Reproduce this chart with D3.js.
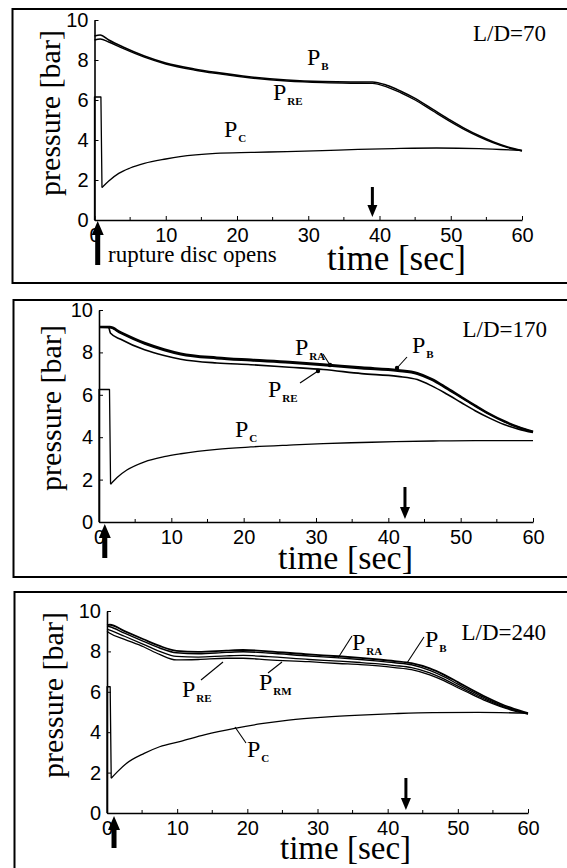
<!DOCTYPE html>
<html>
<head>
<meta charset="utf-8">
<script src="https://cdn.jsdelivr.net/npm/d3@7"></script>
<style>
  html, body { margin: 0; padding: 0; background: #fff; }
  svg { display: block; }
</style>
</head>
<body>
<svg id="chart" width="567" height="868"></svg>
<script>
// ---- shared axis ticks ----
const xTickVals = [0, 10, 20, 30, 40, 50, 60];
const yTickVals = [0, 2, 4, 6, 8, 10];

// ---- L/D = 70 ----
const tB1  = [0, 0.8, 2, 4, 7, 10, 14, 17, 22, 27, 32, 36, 39, 41, 43, 45, 47.5, 50, 52, 54, 56, 58, 60];
const pB1  = [9.2, 9.25, 9.0, 8.65, 8.2, 7.85, 7.55, 7.38, 7.15, 7.0, 6.92, 6.9, 6.9, 6.74, 6.44, 6.08, 5.53, 4.98, 4.57, 4.21, 3.9, 3.65, 3.47];
const pRE1 = [9.0, 9.05, 8.9, 8.58, 8.14, 7.8, 7.5, 7.33, 7.1, 6.95, 6.87, 6.84, 6.83, 6.66, 6.36, 6.0, 5.45, 4.91, 4.51, 4.16, 3.86, 3.62, 3.46];
const tC1  = [0, 0, 0.9, 1.05, 2, 3.4, 5, 7, 10, 12, 17, 22, 27, 32, 37, 42, 48, 54, 60];
const pC1  = [0, 6.15, 6.15, 1.62, 1.95, 2.33, 2.6, 2.83, 3.05, 3.17, 3.33, 3.38, 3.42, 3.47, 3.53, 3.57, 3.6, 3.57, 3.47];

// ---- L/D = 170 ----
const tB2  = [0, 1.5, 3, 6.3, 9, 11.3, 16.3, 21, 26.3, 31, 36.3, 41.3, 44, 46, 48, 50, 52, 54, 56, 58, 60];
const pB2  = [9.2, 9.2, 8.95, 8.45, 8.15, 7.95, 7.76, 7.66, 7.56, 7.44, 7.29, 7.17, 7.03, 6.75, 6.35, 5.92, 5.5, 5.1, 4.76, 4.48, 4.26];
const pRA2 = [9.18, 9.17, 8.9, 8.4, 8.1, 7.9, 7.71, 7.61, 7.51, 7.39, 7.24, 7.12, 6.98, 6.7, 6.3, 5.88, 5.46, 5.07, 4.73, 4.46, 4.25];
const tRE2 = [0, 1.3, 1.6, 3, 6.3, 9, 11.3, 16.3, 21, 26.3, 31, 36.3, 41.3, 44, 46, 48, 50, 52, 54, 56, 58, 60];
const pRE2 = [9.2, 9.2, 8.9, 8.62, 8.12, 7.85, 7.68, 7.5, 7.42, 7.3, 7.19, 7.0, 6.87, 6.72, 6.42, 6.05, 5.65, 5.25, 4.9, 4.6, 4.38, 4.22];
const tC2  = [0, 0, 1.45, 1.6, 2.5, 3.85, 6.3, 9, 11.3, 16.3, 21, 26.3, 31, 36.3, 41, 46.2, 52, 60];
const pC2  = [0, 6.25, 6.25, 1.78, 2.1, 2.45, 2.84, 3.08, 3.22, 3.43, 3.54, 3.63, 3.7, 3.75, 3.79, 3.82, 3.84, 3.84];

// ---- L/D = 240 ----
const tR3  = [0, 0.4, 2.5, 5.2, 7.5, 9.9, 13, 17, 19.4, 23, 28.8, 33, 36.1, 38.7, 41, 43.4, 46, 48, 50, 52, 54, 56, 58, 60];
const pRA3 = [9.3, 9.32, 9.0, 8.6, 8.27, 8.03, 7.98, 8.04, 8.07, 8.0, 7.85, 7.76, 7.68, 7.6, 7.52, 7.42, 7.16, 6.85, 6.48, 6.1, 5.74, 5.42, 5.16, 4.95];
const pB3  = [9.25, 9.22, 8.9, 8.5, 8.17, 7.93, 7.88, 7.95, 7.98, 7.92, 7.77, 7.68, 7.6, 7.52, 7.44, 7.34, 7.06, 6.75, 6.38, 6.02, 5.67, 5.37, 5.12, 4.93];
const pRM3 = [9.1, 9.05, 8.75, 8.35, 8.0, 7.75, 7.72, 7.78, 7.8, 7.74, 7.6, 7.52, 7.45, 7.38, 7.3, 7.2, 6.94, 6.64, 6.28, 5.94, 5.61, 5.32, 5.09, 4.91];
const pRE3 = [9.0, 8.9, 8.6, 8.23, 7.85, 7.58, 7.6, 7.66, 7.66, 7.58, 7.49, 7.4, 7.35, 7.28, 7.2, 7.1, 6.84, 6.55, 6.2, 5.87, 5.55, 5.28, 5.06, 4.9];
const tC3  = [0, 0, 0.45, 0.6, 1.5, 2.8, 5.3, 7.5, 10.5, 14, 18.2, 22, 25.9, 31, 36.1, 41, 46.4, 52.9, 60];
const pC3  = [0, 6.25, 6.25, 1.72, 2.05, 2.46, 2.95, 3.28, 3.55, 3.88, 4.19, 4.42, 4.6, 4.75, 4.85, 4.92, 4.97, 4.98, 4.94];

const zip = (t, p) => t.map((v, i) => [v, p[i]]);

const SERIF = "'Liberation Serif', 'Times New Roman', serif";
const SANS = "'Liberation Sans', Arial, sans-serif";

const panels = [
  {
    box: { x: 12.5, y: 9, h: 274 },
    xr: [94.5, 522], yr: [220, 20],
    ld: { text: 'L/D=70', x: 546, y: 41 },
    series: [
      { pts: zip(tB1, pB1), w: 1.6, sharp: 0 },
      { pts: zip(tB1, pRE1), w: 1.4, sharp: 0 },
      { pts: zip(tC1, pC1), w: 1.3, sharp: 4 }
    ],
    labels: [
      { sub: 'B', x: 307, y: 65 },
      { sub: 'RE', x: 273, y: 100 },
      { sub: 'C', x: 224, y: 137 }
    ],
    pointers: [],
    up: { t: 0.45, y0: 221, y1: 265 },
    down: { t: 39, y0: 187, y1: 217 },
    time: { x: 327, y: 270, size: 35 },
    pressure: { x: 49, y: 113 },
    note: { text: 'rupture disc opens', x: 108, y: 262 }
  },
  {
    box: { x: 13.5, y: 300, h: 277 },
    xr: [99, 533], yr: [522, 310],
    ld: { text: 'L/D=170', x: 547, y: 337 },
    series: [
      { pts: zip(tB2, pB2), w: 2.2, sharp: 0 },
      { pts: zip(tB2, pRA2), w: 1.8, sharp: 0 },
      { pts: zip(tRE2, pRE2), w: 1.6, sharp: 0 },
      { pts: zip(tC2, pC2), w: 1.3, sharp: 4 }
    ],
    labels: [
      { sub: 'RA', x: 295, y: 355 },
      { sub: 'B', x: 412, y: 353 },
      { sub: 'RE', x: 268, y: 397 },
      { sub: 'C', x: 235, y: 437 }
    ],
    pointers: [
      { a: [323, 354], b: [330, 365], dot: true },
      { a: [407, 357], b: [397, 368], dot: true },
      { a: [300, 383], b: [318, 371], dot: true }
    ],
    up: { t: 0.8, y0: 524, y1: 558 },
    down: { t: 42.3, y0: 487, y1: 519 },
    time: { x: 278, y: 569, size: 34 },
    pressure: { x: 50, y: 408 }
  },
  {
    box: { x: 14.5, y: 592, h: 320 },
    xr: [107, 528], yr: [813, 611],
    ld: { text: 'L/D=240', x: 546, y: 640 },
    series: [
      { pts: zip(tR3, pRA3), w: 1.8, sharp: 0 },
      { pts: zip(tR3, pB3), w: 1.4, sharp: 0 },
      { pts: zip(tR3, pRM3), w: 1.3, sharp: 0 },
      { pts: zip(tR3, pRE3), w: 1.3, sharp: 0 },
      { pts: zip(tC3, pC3), w: 1.3, sharp: 4 }
    ],
    labels: [
      { sub: 'RA', x: 352, y: 650 },
      { sub: 'B', x: 425, y: 647 },
      { sub: 'RE', x: 182, y: 697 },
      { sub: 'RM', x: 259, y: 690 },
      { sub: 'C', x: 247, y: 757 }
    ],
    pointers: [
      { a: [352, 636], b: [338, 658] },
      { a: [424, 637], b: [407, 663] },
      { a: [201, 680], b: [223, 662] },
      { a: [268, 673], b: [282, 662] },
      { a: [246, 743], b: [235, 727] }
    ],
    up: { t: 1.0, y0: 816, y1: 848 },
    down: { t: 42.6, y0: 778, y1: 810 },
    time: { x: 280, y: 859, size: 33 },
    pressure: { x: 52, y: 695 }
  }
];

const svg = d3.select('#chart');
svg.append('rect').attr('width', 567).attr('height', 868).attr('fill', '#fff');

panels.forEach(cfg => {
  const g = svg.append('g');
  const x = d3.scaleLinear().domain([0, 60]).range(cfg.xr);
  const y = d3.scaleLinear().domain([0, 10]).range(cfg.yr);

  // frame around the panel (runs off the right edge)
  g.append('rect')
    .attr('x', cfg.box.x).attr('y', cfg.box.y)
    .attr('width', 620).attr('height', cfg.box.h)
    .attr('fill', 'none').attr('stroke', '#000').attr('stroke-width', 2);

  // axes
  const xAxis = d3.axisBottom(x).tickValues(xTickVals).tickSizeInner(-4).tickSizeOuter(0).tickPadding(8);
  const yAxis = d3.axisLeft(y).tickValues(yTickVals).tickSizeInner(-4).tickSizeOuter(0).tickPadding(6);
  const gx = g.append('g').attr('transform', `translate(0,${cfg.yr[0]})`).call(xAxis);
  const gy = g.append('g').attr('transform', `translate(${cfg.xr[0]},0)`).call(yAxis);
  [gx, gy].forEach(a => {
    a.select('.domain').attr('stroke', '#000').attr('stroke-width', 1.6);
    a.selectAll('.tick line').attr('stroke', '#000').attr('stroke-width', 1);
    a.selectAll('.tick text').attr('font-family', SANS).attr('font-size', 20).attr('fill', '#000');
  });
  // minor inward ticks
  g.append('g').selectAll('line').data(d3.range(5, 60, 10)).join('line')
    .attr('x1', d => x(d)).attr('x2', d => x(d))
    .attr('y1', cfg.yr[0]).attr('y2', cfg.yr[0] - 3)
    .attr('stroke', '#000').attr('stroke-width', 1);

  // pressure curves
  const smooth = d3.line().x(d => x(d[0])).y(d => y(d[1])).curve(d3.curveMonotoneX);
  const straight = d3.line().x(d => x(d[0])).y(d => y(d[1]));
  cfg.series.forEach(s => {
    if (s.sharp > 0) {
      g.append('path').attr('d', straight(s.pts.slice(0, s.sharp)))
        .attr('fill', 'none').attr('stroke', '#000').attr('stroke-width', s.w)
        .attr('stroke-linejoin', 'round');
    }
    g.append('path').attr('d', smooth(s.pts.slice(Math.max(0, s.sharp - 1))))
      .attr('fill', 'none').attr('stroke', '#000').attr('stroke-width', s.w)
      .attr('stroke-linejoin', 'round');
  });

  // leader lines to curves
  cfg.pointers.forEach(p => {
    g.append('line').attr('x1', p.a[0]).attr('y1', p.a[1]).attr('x2', p.b[0]).attr('y2', p.b[1])
      .attr('stroke', '#000').attr('stroke-width', 1.1);
    if (p.dot) g.append('circle').attr('cx', p.b[0]).attr('cy', p.b[1]).attr('r', 2.2).attr('fill', '#000');
  });

  // curve labels: P with subscript
  cfg.labels.forEach(l => {
    const t = g.append('text').attr('x', l.x).attr('y', l.y)
      .attr('font-family', SERIF).attr('fill', '#000');
    t.append('tspan').attr('font-size', 24).text('P');
    t.append('tspan').attr('font-size', 11).attr('font-weight', 700).attr('dx', 1).attr('dy', 5).text(l.sub);
  });

  // L/D tag
  g.append('text').attr('x', cfg.ld.x).attr('y', cfg.ld.y).attr('text-anchor', 'end')
    .attr('font-family', SERIF).attr('font-size', 23).attr('fill', '#000').text(cfg.ld.text);

  // axis titles
  g.append('text').attr('x', cfg.time.x).attr('y', cfg.time.y)
    .attr('font-family', SERIF).attr('font-size', cfg.time.size).attr('fill', '#000').text('time [sec]');
  g.append('text')
    .attr('transform', `translate(${cfg.pressure.x},${cfg.pressure.y}) rotate(-90)`)
    .attr('text-anchor', 'middle').attr('dominant-baseline', 'central')
    .attr('font-family', SERIF).attr('font-size', 30).attr('fill', '#000').text('pressure [bar]');

  if (cfg.note) {
    g.append('text').attr('x', cfg.note.x).attr('y', cfg.note.y)
      .attr('font-family', SERIF).attr('font-size', 23).attr('fill', '#000').text(cfg.note.text);
  }

  // rupture-disc arrow (up) and end-of-plateau arrow (down)
  const ux = x(cfg.up.t);
  g.append('path')
    .attr('d', `M${ux},${cfg.up.y0} L${ux + 6},${cfg.up.y0 + 14} L${ux + 2.5},${cfg.up.y0 + 14} L${ux + 2.5},${cfg.up.y1} L${ux - 2.5},${cfg.up.y1} L${ux - 2.5},${cfg.up.y0 + 14} L${ux - 6},${cfg.up.y0 + 14} Z`)
    .attr('fill', '#000');
  const dx = x(cfg.down.t);
  g.append('line').attr('x1', dx).attr('x2', dx).attr('y1', cfg.down.y0).attr('y2', cfg.down.y1 - 10)
    .attr('stroke', '#000').attr('stroke-width', 3);
  g.append('path')
    .attr('d', `M${dx - 5},${cfg.down.y1 - 12} L${dx + 5},${cfg.down.y1 - 12} L${dx},${cfg.down.y1} Z`)
    .attr('fill', '#000');
});
</script>
</body>
</html>
